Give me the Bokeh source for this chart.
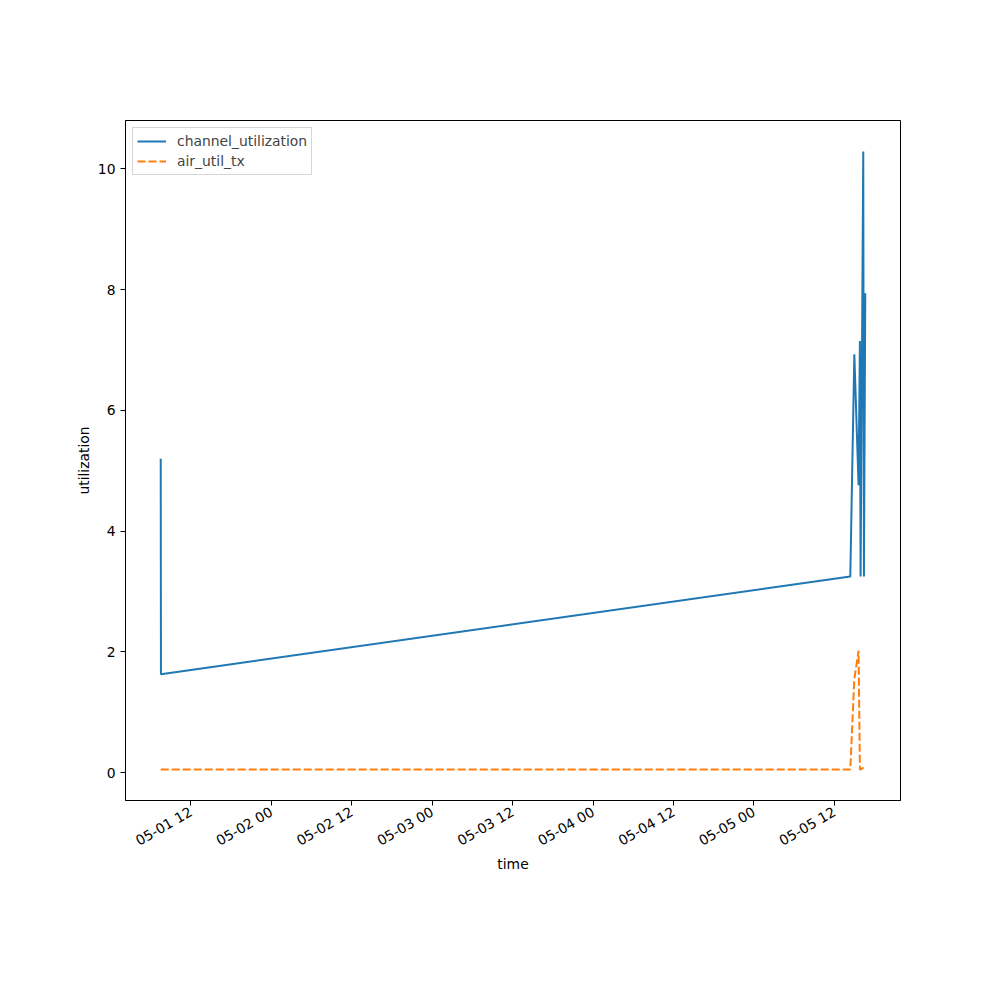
import math
import pandas as pd
from bokeh.plotting import figure
from bokeh.models import FixedTicker, DatetimeTickFormatter, Legend, LegendItem, ColumnDataSource
from bokeh.embed import file_html
from bokeh.resources import INLINE

# ---- data ----
times = [
    "2024-05-01 07:30", "2024-05-01 07:32",
    "2024-05-05 14:22", "2024-05-05 14:58", "2024-05-05 15:36",
    "2024-05-05 15:48", "2024-05-05 15:54", "2024-05-05 16:18",
    "2024-05-05 16:24", "2024-05-05 16:36",
]
channel_utilization = [5.20, 1.63, 3.25, 6.93, 4.76, 7.15, 3.25, 10.29, 3.25, 7.94]
air_util_tx = [0.05, 0.05, 0.05, 1.55, 2.02, 0.06, 0.05, 0.08, 0.05, 0.05]

tick_times = [
    "2024-05-01 12:00", "2024-05-02 00:00", "2024-05-02 12:00", "2024-05-03 00:00",
    "2024-05-03 12:00", "2024-05-04 00:00", "2024-05-04 12:00", "2024-05-05 00:00",
    "2024-05-05 12:00",
]
y_ticks = [0, 2, 4, 6, 8, 10]

FONT = "DejaVu Sans"
FS = "13.9px"

src = ColumnDataSource(dict(
    t=pd.to_datetime(times),
    cu=channel_utilization,
    at=air_util_tx,
))

p = figure(
    width=984, height=984,
    x_axis_type="datetime",
    output_backend="svg",
    toolbar_location=None,
    min_border_left=125, min_border_right=84,
    min_border_top=120, min_border_bottom=184,
)
p.background_fill_color = "white"
p.border_fill_color = "white"
p.outline_line_color = "black"
p.outline_line_width = 1
p.xgrid.visible = False
p.ygrid.visible = False

r1 = p.line("t", "cu", source=src, line_color="#1f77b4", line_width=2)
r2 = p.line("t", "at", source=src, line_color="#ff7f0e", line_width=2, line_dash="8 3")

tick_ms = [pd.Timestamp(s).value / 1e6 for s in tick_times]
p.xaxis.ticker = FixedTicker(ticks=tick_ms)
fmt = "%m-%d %H"
p.xaxis.formatter = DatetimeTickFormatter(
    microseconds=fmt, milliseconds=fmt, seconds=fmt, minsec=fmt, minutes=fmt,
    hourmin=fmt, hours=fmt, days=fmt, months=fmt, years=fmt)
p.xaxis.major_label_orientation = math.pi / 6
p.yaxis.ticker = FixedTicker(ticks=y_ticks)

for ax in (p.xaxis[0], p.yaxis[0]):
    ax.major_tick_out = 5
    ax.major_tick_in = 0
    ax.minor_tick_out = 0
    ax.minor_tick_in = 0
    ax.axis_line_color = "black"
    ax.major_tick_line_color = "black"
    ax.major_label_text_font = FONT
    ax.major_label_text_font_size = FS
    ax.major_label_text_color = "black"
    ax.axis_label_text_font = FONT
    ax.axis_label_text_font_size = FS
    ax.axis_label_text_font_style = "normal"
    ax.axis_label_text_color = "black"

p.xaxis.axis_label = "time"
p.yaxis.axis_label = "utilization"
p.xaxis.axis_label_standoff = -3
p.yaxis.axis_label_standoff = 3

legend = Legend(items=[
    LegendItem(label="channel_utilization", renderers=[r1]),
    LegendItem(label="air_util_tx", renderers=[r2]),
], location="top_left")
legend.margin = 7
legend.padding = 4
legend.spacing = 2
legend.label_height = 18
legend.glyph_height = 18
legend.glyph_width = 29
legend.label_standoff = 11
legend.label_text_font = FONT
legend.label_text_font_size = FS
legend.border_line_color = "#cccccc"
legend.border_line_alpha = 0.8
legend.background_fill_alpha = 0.8
p.add_layout(legend)

open("out.html", "w").write(file_html(p, INLINE))
